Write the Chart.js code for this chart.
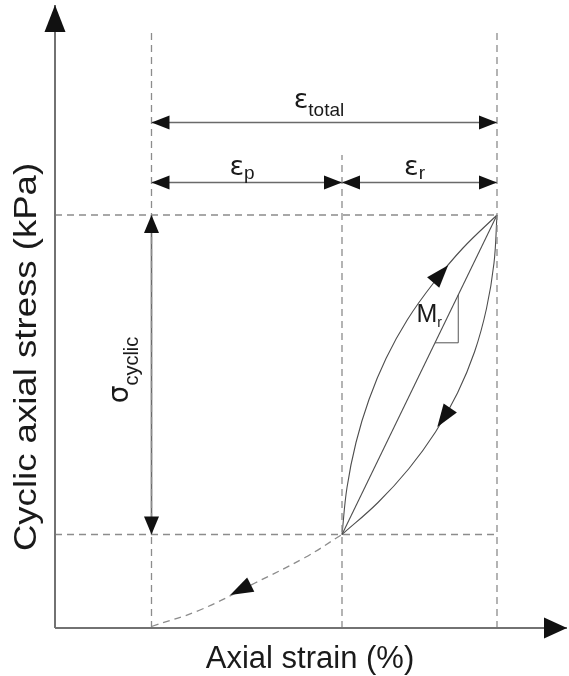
<!DOCTYPE html>
<html>
<head>
<meta charset="utf-8">
<script src="https://cdn.jsdelivr.net/npm/chart.js@4.4.1/dist/chart.umd.min.js"></script>
<style>
html, body { margin: 0; padding: 0; background: #fff; }
canvas { display: block; }
</style>
</head>
<body>
<canvas id="chart" width="569" height="676"></canvas>
<script>
// schematic units (strain on x, stress on y)
var strainMarks = [1.93, 5.74, 8.84];    // start of cycle, end of plastic strain, peak strain
var stressMarks = [1.87, 8.26];          // minimum and maximum cyclic stress
var guideTops = [11.96, 9.46, 11.96];    // top end of each vertical dashed guide
var dimensionLevels = [10.11, 8.91];     // eps_total arrow, eps_p / eps_r arrows
var axisEnds = [10.24, 12.46];           // arrow tips of strain and stress axes

var firstLoading = [
    { x: 1.93, y: 0.03 }, { x: 2.90, y: 0.36 }, { x: 4.00, y: 0.90 },
    { x: 5.00, y: 1.41 }, { x: 5.74, y: 1.87 }
];
var loadingCurve = [
    { x: 5.74, y: 1.87 }, { x: 5.84, y: 2.81 }, { x: 6.02, y: 3.71 },
    { x: 6.28, y: 4.57 }, { x: 6.62, y: 5.39 }, { x: 7.05, y: 6.17 },
    { x: 7.57, y: 6.90 }, { x: 8.16, y: 7.60 }, { x: 8.84, y: 8.26 }
];
var unloadingCurve = [
    { x: 8.84, y: 8.26 }, { x: 8.78, y: 7.30 }, { x: 8.63, y: 6.39 },
    { x: 8.39, y: 5.52 }, { x: 8.05, y: 4.70 }, { x: 7.61, y: 3.92 },
    { x: 7.08, y: 3.19 }, { x: 6.46, y: 2.51 }, { x: 5.74, y: 1.87 }
];
// direction markers: point on the path and a point it heads toward
var pathArrows = [
    { at: { x: 7.72, y: 7.09 }, to: { x: 8.16, y: 7.60 } },
    { at: { x: 7.77, y: 4.20 }, to: { x: 7.08, y: 3.19 } },
    { at: { x: 3.70, y: 0.76 }, to: { x: 2.90, y: 0.36 } }
];

var x0 = strainMarks[0], xp = strainMarks[1], xm = strainMarks[2];
var yMin = stressMarks[0], yMax = stressMarks[1];

var dashed = { borderColor: '#8c8c8c', borderWidth: 1.3, borderDash: [7, 5] };
var thin = { borderColor: '#4d4d4d', borderWidth: 1.1 };
var dim = { borderColor: '#6a6a6a', borderWidth: 1.6 };
var axis = { borderColor: '#727272', borderWidth: 2 };

function seg(points, style, tension) {
    var ds = { data: points, showLine: true, pointRadius: 0, clip: false, tension: tension || 0 };
    for (var k in style) ds[k] = style[k];
    return ds;
}

var datasets = [
    seg([{ x: 0, y: 0 }, { x: axisEnds[0], y: 0 }], axis),
    seg([{ x: 0, y: 0 }, { x: 0, y: axisEnds[1] }], axis),
    seg([{ x: 0, y: yMax }, { x: xm, y: yMax }], dashed),
    seg([{ x: 0, y: yMin }, { x: xm, y: yMin }], dashed),
    seg([{ x: x0, y: 0 }, { x: x0, y: guideTops[0] }], dashed),
    seg([{ x: xp, y: 0 }, { x: xp, y: guideTops[1] }], dashed),
    seg([{ x: xm, y: 0 }, { x: xm, y: guideTops[2] }], dashed),
    seg([{ x: x0, y: dimensionLevels[0] }, { x: xm, y: dimensionLevels[0] }], dim),
    seg([{ x: x0, y: dimensionLevels[1] }, { x: xm, y: dimensionLevels[1] }], dim),
    seg([{ x: x0, y: yMin }, { x: x0, y: yMax }], dim),
    seg(firstLoading, dashed, 0.4),
    seg(loadingCurve, thin, 0.4),
    seg(unloadingCurve, thin, 0.4),
    seg([{ x: xp, y: yMin }, { x: xm, y: yMax }], thin)
];

var FONT = "'Liberation Sans', Arial, sans-serif";
var GREEK = "'DejaVu Sans', sans-serif";

function head(ctx, x, y, ang, len, wid) {
    ctx.save();
    ctx.translate(x, y);
    ctx.rotate(ang);
    ctx.beginPath();
    ctx.moveTo(0, 0);
    ctx.lineTo(-len, -wid / 2);
    ctx.lineTo(-len, wid / 2);
    ctx.closePath();
    ctx.fill();
    ctx.restore();
}

function subText(ctx, main, sub, x, y, size, subSize, drop) {
    ctx.font = size + 'px ' + GREEK;
    var w1 = ctx.measureText(main).width;
    ctx.font = subSize + 'px ' + FONT;
    var w2 = ctx.measureText(sub).width;
    var left = x - (w1 + w2) / 2;
    ctx.font = size + 'px ' + GREEK;
    ctx.fillText(main, left, y);
    ctx.font = subSize + 'px ' + FONT;
    ctx.fillText(sub, left + w1, y + drop);
}

var decorations = {
    id: 'decorations',
    afterDatasetsDraw: function(chart) {
        var ctx = chart.ctx, sx = chart.scales.x, sy = chart.scales.y;
        function px(v) { return sx.getPixelForValue(v); }
        function py(v) { return sy.getPixelForValue(v); }
        ctx.save();
        ctx.fillStyle = '#111';
        // axis arrows
        head(ctx, px(axisEnds[0]), py(0), 0, 23, 21);
        head(ctx, px(0), py(axisEnds[1]), -Math.PI / 2, 27, 21);
        // dimension arrows
        dimensionLevels.forEach(function(lv, i) {
            var ends = i === 0 ? [[x0, xm]] : [[x0, xp], [xp, xm]];
            ends.forEach(function(e) {
                head(ctx, px(e[0]), py(lv), Math.PI, 18, 14);
                head(ctx, px(e[1]), py(lv), 0, 18, 14);
            });
        });
        head(ctx, px(x0), py(yMax), -Math.PI / 2, 18, 15);
        head(ctx, px(x0), py(yMin), Math.PI / 2, 18, 15);
        // direction markers along the paths
        pathArrows.forEach(function(a) {
            var ax = px(a.at.x), ay = py(a.at.y);
            var ang = Math.atan2(py(a.to.y) - ay, px(a.to.x) - ax);
            head(ctx, ax + 11 * Math.cos(ang), ay + 11 * Math.sin(ang), ang, 23, 16);
        });
        // Mr slope triangle
        var tx = px(xp + (xm - xp) * 0.75), ty = py(yMin + (yMax - yMin) * 0.6);
        ctx.strokeStyle = '#555';
        ctx.lineWidth = 1;
        ctx.beginPath();
        ctx.moveTo(tx, py(yMin + (yMax - yMin) * 0.75));
        ctx.lineTo(tx, ty);
        ctx.lineTo(px(xp + (xm - xp) * 0.6), ty);
        ctx.stroke();

        ctx.fillStyle = '#1a1a1a';
        ctx.textBaseline = 'alphabetic';
        subText(ctx, 'ε', 'total', px(5.28), py(10.40), 27, 19, 8);
        subText(ctx, 'ε', 'p', px(3.74), py(9.06), 27, 19, 4);
        subText(ctx, 'ε', 'r', px(7.19), py(9.06), 27, 19, 4);
        // M_r
        ctx.font = '25px ' + FONT;
        var mx = px(7.23), my = py(6.12);
        ctx.fillText('M', mx, my);
        var mw = ctx.measureText('M').width;
        ctx.font = '14px ' + FONT;
        ctx.fillText('r', mx + mw, my + 5);
        // sigma_cyclic, rotated
        ctx.save();
        ctx.translate(px(1.46), py(5.16));
        ctx.rotate(-Math.PI / 2);
        subText(ctx, 'σ', 'cyclic', 0, 0, 28, 20, 10);
        ctx.restore();
        // axis titles
        ctx.font = '31px ' + FONT;
        ctx.textAlign = 'center';
        ctx.fillText('Axial strain (%)', 310, chart.chartArea.bottom + 40);
        ctx.save();
        ctx.translate(36, 357);
        ctx.rotate(-Math.PI / 2);
        ctx.scale(1.18, 1);
        ctx.fillText('Cyclic axial stress (kPa)', 0, 0);
        ctx.restore();
        ctx.restore();
    }
};

new Chart(document.getElementById('chart').getContext('2d'), {
    type: 'scatter',
    data: { datasets: datasets },
    options: {
        responsive: false,
        animation: false,
        layout: { padding: { left: 55, right: 14, top: 28, bottom: 48 } },
        plugins: { legend: { display: false }, tooltip: { enabled: false } },
        scales: {
            x: { type: 'linear', min: 0, max: 10, display: false },
            y: { type: 'linear', min: 0, max: 12, display: false }
        }
    },
    plugins: [decorations]
});
</script>
</body>
</html>
